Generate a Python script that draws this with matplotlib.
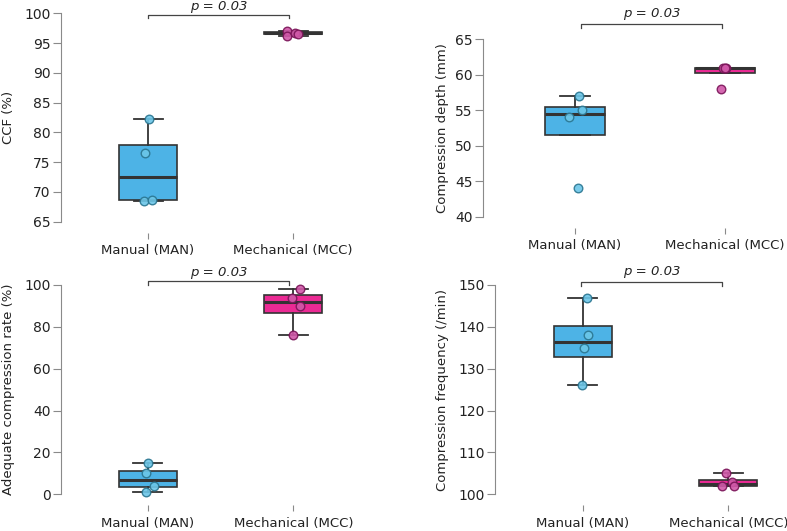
import matplotlib
matplotlib.use("Agg")
import matplotlib.pyplot as plt
import matplotlib.transforms as mtransforms

plt.rcParams['font.family'] = ['DejaVu Sans']

categories = ["Manual (MAN)", "Mechanical (MCC)"]

ccf_man = [82.2, 76.5, 68.5, 68.6]
ccf_mcc = [97.1, 96.2, 96.8, 96.6]
depth_man = [57, 55, 54, 44]
depth_mcc = [61, 61, 61, 58]
rate_man = [15, 10, 4, 1]
rate_mcc = [98, 94, 90, 76]
freq_man = [147, 138, 135, 126]
freq_mcc = [105, 103, 102, 102]

ylabels = ["CCF (%)", "Compression depth (mm)",
           "Adequate compression rate (%)", "Compression frequency (/min)"]
yticks_list = [[65, 70, 75, 80, 85, 90, 95, 100],
               [40, 45, 50, 55, 60, 65],
               [0, 20, 40, 60, 80, 100],
               [100, 110, 120, 130, 140, 150]]
p_text = "p = 0.03"

# jitter offsets (category units) for the points
jit_ccf = ([0.01, -0.02, -0.03, 0.03], [-0.04, -0.043, 0.014, 0.037])
jit_depth = ([0.027, 0.044, -0.04, 0.022], [-0.015, 0.007, -0.003, -0.03])
jit_rate = ([0.0, -0.014, 0.043, -0.009], [0.048, -0.007, 0.044, -0.002])
jit_freq = ([0.027, 0.039, 0.007, -0.002], [-0.014, 0.023, -0.045, 0.037])

W, H = 787, 531
fig = plt.figure(figsize=(W / 100, H / 100), dpi=100)

BLUE = "#4DB3E6"
PINK = "#EB2A94"
PT_FILL = ["#6CC6E8", "#D058A8"]
PT_EDGE = ["#2A7590", "#7A1458"]
DARK = "#333333"
GRAY = "#8A8A8A"

# (left px, top px, bottom px, cat1 px, cat2 px, bracket y, bracket drop, text y, ylabel right px, bracket x)
layout = [
    (61, 13.5, 221.7, 148, 293, 0.995, 0.976, 1.036, 15, (1.0, 1.97)),
    (483.3, 39.3, 216.7, 575, 725, 1.084, 1.062, 1.145, 449, (1.04, 1.98)),
    (61, 285, 494.3, 147.7, 293.3, 1.021, 1.0, 1.060, 15, (1.0, 1.97)),
    (495, 285, 494.3, 582.7, 728.3, 1.014, 0.993, 1.065, 449, (0.99, 1.955)),
]
data = [(ccf_man, ccf_mcc, jit_ccf), (depth_man, depth_mcc, jit_depth),
        (rate_man, rate_mcc, jit_rate), (freq_man, freq_mcc, jit_freq)]

for i, (lay, (dman, dmcc, jit)) in enumerate(zip(layout, data)):
    left, top, bottom, c1, c2, by, bd, ty, ylr, bx = lay
    sp = c2 - c1
    right = c2 + 0.6 * sp
    ax = fig.add_axes([left / W, 1 - bottom / H, (right - left) / W, (bottom - top) / H])

    bp = ax.boxplot([dman, dmcc], positions=[1, 2], widths=0.4, patch_artist=True,
                    showfliers=False, zorder=2,
                    medianprops=dict(color=DARK, linewidth=2.2),
                    whiskerprops=dict(color=DARK, linewidth=1.3),
                    capprops=dict(color=DARK, linewidth=1.3),
                    boxprops=dict(edgecolor=DARK, linewidth=1.2))
    for patch, col in zip(bp['boxes'], [BLUE, PINK]):
        patch.set_facecolor(col)

    for k, (vals, offs) in enumerate(zip([dman, dmcc], jit)):
        xs = [k + 1 + o for o in offs]
        ax.scatter(xs, vals, s=38, facecolor=PT_FILL[k], edgecolor=PT_EDGE[k],
                   linewidth=1.0, alpha=0.9, zorder=3, clip_on=False)

    ax.set_xlim(1 - (c1 - left) / sp, 2 + (right - c2) / sp)
    yt = yticks_list[i]
    ax.set_ylim(yt[0], yt[-1])
    ax.set_yticks(yt)
    ax.set_xticks([1, 2])
    ax.set_xticklabels(categories)

    for s in ['top', 'right']:
        ax.spines[s].set_visible(False)
    ax.spines['bottom'].set_position(('outward', 8))
    ax.spines['bottom'].set_visible(False)
    ax.spines['left'].set_color(GRAY)
    ax.spines['left'].set_linewidth(0.8)
    ax.tick_params(axis='y', length=5.5, width=0.8, color=GRAY, pad=2,
                   labelsize=10, labelcolor="#222222")
    ax.tick_params(axis='x', length=4, width=0.8, color=GRAY, pad=4,
                   labelsize=9.5, labelcolor="#222222")
    ax.set_facecolor('none')

    ax.set_ylabel(ylabels[i], fontsize=9.5, color="#222222")
    ax.yaxis.set_label_coords((ylr - left) / (right - left), 0.5)

    trans = mtransforms.blended_transform_factory(ax.transData, ax.transAxes)
    ax.plot([bx[0], bx[0], bx[1], bx[1]], [bd, by, by, bd], color="#444444",
            linewidth=0.9, transform=trans, clip_on=False)
    ax.text((bx[0] + bx[1]) / 2, ty, p_text, transform=trans, ha='center',
            va='center', fontsize=9.5, style='italic', color="#222222")

fig.savefig("out.png", dpi=100)
